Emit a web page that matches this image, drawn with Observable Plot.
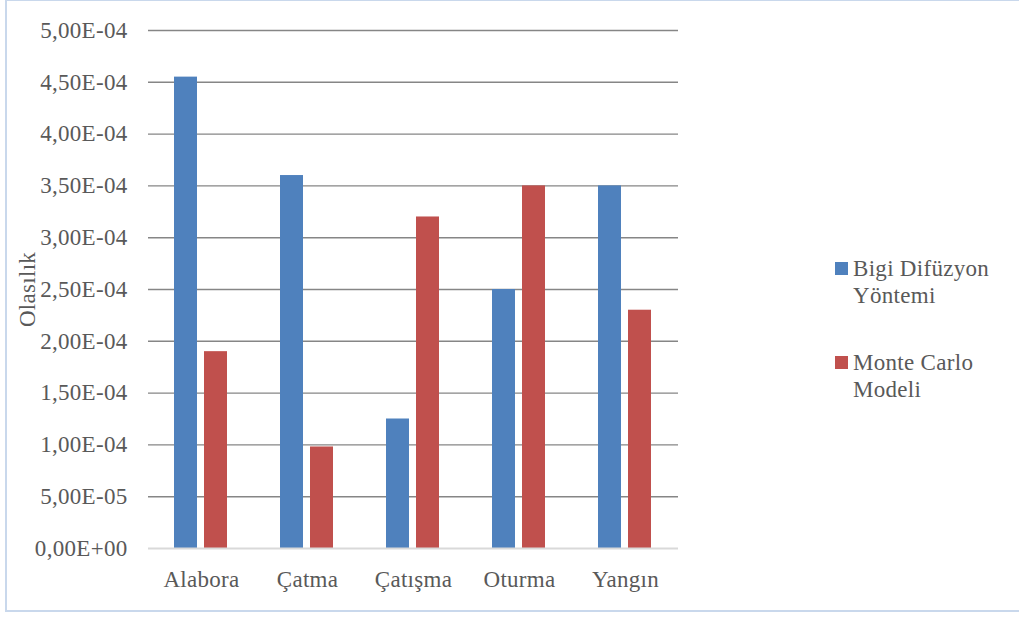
<!DOCTYPE html>
<html>
<head>
<meta charset="utf-8">
<script src="https://cdn.jsdelivr.net/npm/d3@7"></script>
<script src="https://cdn.jsdelivr.net/npm/@observablehq/plot@0.6"></script>
<style>
  body { margin: 0; background: #fff; }
  #wrap { position: relative; width: 1019px; height: 617px; overflow: hidden; font-family: "Liberation Serif", "Times New Roman", serif; }
  #frame { position: absolute; left: 5px; top: -1px; width: 1100px; height: 613px; border: 2px solid #c9d8ec; box-sizing: border-box; }
  #chart { position: absolute; left: 0; top: 0; }
  #chart svg text { letter-spacing: 0.3px; }
  .legend-item { position: absolute; left: 835px; font-size: 23px; line-height: 27px; color: #595959; letter-spacing: 0.3px; }
  .legend-item .sw { position: absolute; left: 0; width: 13px; height: 13px; }
  .legend-item .lbl { position: absolute; left: 18px; white-space: nowrap; }
</style>
</head>
<body>
<div id="wrap">
  <div id="frame"></div>
  <div id="chart"></div>
  <div id="legend"></div>
</div>
<script>
// Event categories along the x axis
const categories = ["Alabora", "Çatma", "Çatışma", "Oturma", "Yangın"];
// Series names and colours
const seriesNames = ["Bigi Difüzyon Yöntemi", "Monte Carlo Modeli"];
const seriesColors = ["#4f81bd", "#c0504d"];
// Probabilities per category
const bigiValues = [4.55e-4, 3.60e-4, 1.25e-4, 2.50e-4, 3.50e-4];
const monteCarloValues = [1.90e-4, 0.98e-4, 3.20e-4, 3.50e-4, 2.30e-4];
// Y tick values
const yTicks = [0, 5e-5, 1e-4, 1.5e-4, 2e-4, 2.5e-4, 3e-4, 3.5e-4, 4e-4, 4.5e-4, 5e-4];

const rows = [];
categories.forEach((c, i) => {
  rows.push({category: c, series: seriesNames[0], value: bigiValues[i]});
  rows.push({category: c, series: seriesNames[1], value: monteCarloValues[i]});
});

// Excel-style scientific format with comma decimal: 4,50E-04
function sci(v) {
  const [m, e] = v.toExponential(2).split("e");
  const n = parseInt(e, 10);
  const sign = n < 0 ? "-" : "+";
  return m.replace(".", ",") + "E" + sign + String(Math.abs(n)).padStart(2, "0");
}

const chart = Plot.plot({
  width: 1019,
  height: 617,
  marginLeft: 148,
  marginRight: 341,
  marginTop: 30,
  marginBottom: 69,
  style: {fontFamily: "'Liberation Serif', 'Times New Roman', serif", fontSize: "23px", color: "#595959", background: "transparent"},
  fx: {domain: categories, padding: 0, label: null, axis: "bottom", tickSize: 0, tickPadding: 22},
  x: {domain: seriesNames, axis: null, paddingInner: 0.2333, paddingOuter: 0.8833},
  y: {domain: [0, 5e-4], ticks: yTicks, tickFormat: sci, tickSize: 0, tickPadding: 21, label: "Olasılık", labelAnchor: "center", labelArrow: "none", labelOffset: 130},
  color: {domain: seriesNames, range: seriesColors},
  marks: [
    Plot.ruleY(yTicks.filter(t => t > 0), {stroke: "#868686", strokeWidth: 1.4}),
    Plot.barY(rows, {fx: "category", x: "series", y: "value", fill: "series"}),
    Plot.ruleY([0], {stroke: "#d9d9d9", strokeWidth: 2})
  ]
});
document.getElementById("chart").appendChild(chart);

// Legend on the right
const legend = document.getElementById("legend");
const legendLines = [["Bigi Difüzyon", "Yöntemi"], ["Monte Carlo", "Modeli"]];
const legendTops = [255, 349];
seriesNames.forEach((s, i) => {
  const item = document.createElement("div");
  item.className = "legend-item";
  item.style.top = legendTops[i] + "px";
  const sw = document.createElement("div");
  sw.className = "sw";
  sw.style.top = "7px";
  sw.style.background = seriesColors[i];
  item.appendChild(sw);
  const lbl = document.createElement("div");
  lbl.className = "lbl";
  lbl.innerHTML = legendLines[i].join("<br>");
  item.appendChild(lbl);
  legend.appendChild(item);
});
</script>
</body>
</html>
